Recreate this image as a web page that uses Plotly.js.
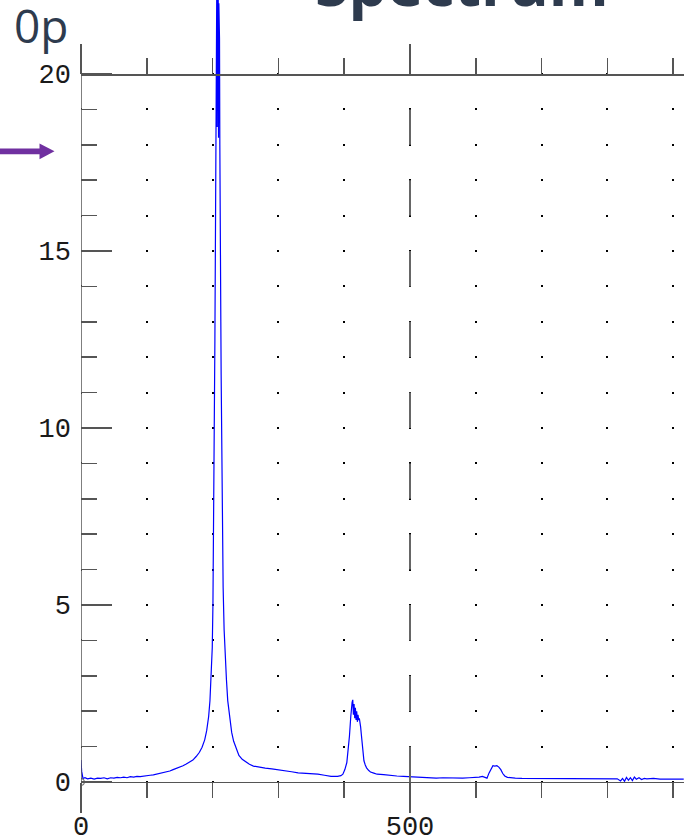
<!DOCTYPE html>
<html><head><meta charset="utf-8">
<script src="https://cdn.plot.ly/plotly-3.0.1.min.js"></script>
<style>html,body{margin:0;padding:0;background:#fff;overflow:hidden}</style>
</head><body><div id="chart" style="width:684px;height:839px"></div>
<script>
const wavenumber = [
  0, 1, 3, 6, 10, 15, 20, 25, 30, 35,
  40, 45, 50, 55, 60, 65, 70, 75, 80, 85,
  90, 95, 100, 105, 110, 115, 120, 125, 130, 135,
  140, 145, 150, 155, 160, 165, 170, 175, 180, 184,
  188, 191, 194, 196, 198, 199.5, 200.5, 201.5, 202.5, 203.5,
  204.5, 205, 205.5, 206, 206.5, 207, 207.5, 208, 208.5, 209,
  209.5, 210, 210.5, 211, 211.5, 212, 212.5, 213, 214, 215,
  216, 217.5, 219, 221, 223, 226, 229, 232, 236, 240,
  245, 250, 256, 262, 270, 280, 290, 300, 310, 320,
  330, 340, 350, 360, 370, 380, 390, 395, 398, 401,
  404, 406, 408, 410, 411, 412, 413, 414, 415, 416,
  417, 418, 419, 420, 421, 422, 423, 424, 425, 426,
  427, 428, 429, 430, 432, 434, 437, 440, 445, 450,
  460, 470, 480, 490, 500, 510, 520, 530, 540, 550,
  560, 570, 580, 590, 600, 605, 610, 614, 617, 620,
  623, 626, 629, 632, 635, 638, 641, 644, 648, 652,
  660, 670, 680, 690, 700, 720, 740, 760, 780, 800,
  815, 820, 823, 826, 829, 832, 835, 838, 841, 844,
  848, 852, 856, 860, 870, 880, 890, 900, 910, 916
];
const intensity = [
  0.62, 0.30, 0.10, 0.12, 0.09, 0.11, 0.08, 0.11, 0.10, 0.12,
  0.09, 0.12, 0.11, 0.13, 0.12, 0.14, 0.12, 0.15, 0.14, 0.16,
  0.15, 0.17, 0.17, 0.19, 0.20, 0.22, 0.24, 0.26, 0.29, 0.31,
  0.35, 0.38, 0.42, 0.46, 0.51, 0.56, 0.62, 0.72, 0.84, 0.98,
  1.19, 1.45, 1.85, 2.30, 3.00, 3.80, 5.00, 7.00, 9.50, 12.5,
  16.0, 18.2, 21.5, 19.0, 23.0, 18.5, 23.0, 19.5, 22.5, 18.2,
  22.0, 18.5, 21.0, 18.0, 17.0, 15.0, 13.0, 11.5, 9.0, 7.0,
  5.5, 4.3, 3.5, 2.9, 2.3, 1.75, 1.40, 1.15, 0.92, 0.75,
  0.64, 0.57, 0.50, 0.45, 0.42, 0.39, 0.37, 0.35, 0.32, 0.29,
  0.26, 0.25, 0.23, 0.22, 0.19, 0.16, 0.16, 0.18, 0.22, 0.35,
  0.55, 0.90, 1.30, 1.85, 2.15, 2.25, 2.32, 1.90, 2.20, 1.80,
  2.10, 1.75, 2.00, 1.70, 1.90, 1.75, 1.80, 1.70, 1.55, 1.35,
  1.10, 0.90, 0.75, 0.60, 0.48, 0.40, 0.33, 0.28, 0.25, 0.22,
  0.21, 0.18, 0.17, 0.16, 0.15, 0.14, 0.12, 0.13, 0.11, 0.12,
  0.11, 0.12, 0.11, 0.12, 0.12, 0.14, 0.16, 0.13, 0.11, 0.25,
  0.38, 0.46, 0.45, 0.46, 0.42, 0.35, 0.24, 0.17, 0.13, 0.12,
  0.11, 0.10, 0.10, 0.09, 0.10, 0.09, 0.09, 0.09, 0.09, 0.09,
  0.09, 0.03, 0.10, 0.02, 0.13, 0.05, 0.12, 0.04, 0.14, 0.08,
  0.12, 0.07, 0.10, 0.09, 0.10, 0.08, 0.09, 0.08, 0.08, 0.08
];
const xTickVals = [0, 500];
const xTickText = ['0', '500'];
const xMinorVals = [100, 200, 300, 400, 600, 700, 800, 900];
const yTickVals = [0, 5, 10, 15, 20];
const yTickText = ['0', '5', '10', '15', '20'];
const yMinorVals = [1, 2, 3, 4, 6, 7, 8, 9, 11, 12, 13, 14, 16, 17, 18, 19];
const titleText = 'Spectrum';
const cornerText = '0p';

const W = 684, H = 839, L = 81;
const xRange = [0, 916.41];
const yRange = [-1.6102, 22.0904];
const pxPerY = H / (yRange[1] - yRange[0]);
const pxPerX = (W - L) / (xRange[1] - xRange[0]);
const posY = v => (v - yRange[0]) / (yRange[1] - yRange[0]);
const paperX = p => (p - L) / (W - L);
const paperY = p => (H - p) / H;
const axisColor = '#555555';
const textDark = '#2e3b4e';
const monoFont = {family: 'Liberation Mono, Courier New, monospace', size: 27, color: '#1a1a1a'};
const gap = (100 * pxPerX - 2).toFixed(2);
const dotDash = '1px,' + gap + 'px,1px,0px';

function pathPaper(pts) {
  return 'M' + pts.map(p => paperX(p[0]).toFixed(5) + ',' + paperY(p[1]).toFixed(5)).join('L') + 'Z';
}

const traces = [
  {x: wavenumber, y: intensity, type: 'scatter', mode: 'lines',
   line: {color: '#0000ff', width: 1.2}, hoverinfo: 'skip', xaxis: 'x', yaxis: 'y'},
  {x: [], y: [], type: 'scatter', mode: 'lines', xaxis: 'x2', yaxis: 'y', hoverinfo: 'skip'}
];

const layout = {
  width: W, height: H,
  margin: {l: L, r: 0, t: 0, b: 0, pad: 0},
  paper_bgcolor: '#ffffff', plot_bgcolor: '#ffffff',
  showlegend: false,
  font: {family: 'Open Sans, sans-serif', color: textDark},
  xaxis: {
    range: xRange, anchor: 'free', position: posY(0), side: 'bottom',
    showline: true, linecolor: axisColor, linewidth: 1.5,
    zeroline: false, showgrid: false,
    tickmode: 'array', tickvals: xTickVals, ticktext: xTickText,
    ticks: 'outside', ticklen: 30, tickwidth: 1.5, tickcolor: axisColor,
    tickfont: monoFont, ticklabelstandoff: -11,
    minor: {tickmode: 'array', tickvals: xMinorVals, ticks: 'outside', ticklen: 15,
            tickwidth: 1.5, tickcolor: axisColor, showgrid: false}
  },
  xaxis2: {
    range: xRange, overlaying: 'x', anchor: 'free', position: posY(20), side: 'top',
    showline: true, linecolor: axisColor, linewidth: 1.5,
    zeroline: false, showgrid: false, showticklabels: false,
    tickmode: 'array', tickvals: xTickVals,
    ticks: 'outside', ticklen: 30, tickwidth: 1.5, tickcolor: axisColor,
    minor: {tickmode: 'array', tickvals: xMinorVals, ticks: 'outside', ticklen: 16,
            tickwidth: 1.5, tickcolor: axisColor, showgrid: false}
  },
  yaxis: {
    range: yRange, anchor: 'x', side: 'left',
    showline: false, zeroline: false,
    tickmode: 'array', tickvals: yTickVals, ticktext: yTickText,
    ticks: 'inside', ticklen: 31, tickwidth: 1.5, tickcolor: axisColor,
    tickfont: monoFont, ticklabelstandoff: 9,
    showgrid: true, gridcolor: '#000000', gridwidth: 2, griddash: dotDash,
    minor: {tickmode: 'array', tickvals: yMinorVals, ticks: 'inside', ticklen: 16,
            tickwidth: 1.5, tickcolor: axisColor,
            showgrid: true, gridcolor: '#000000', gridwidth: 2, griddash: dotDash}
  },
  shapes: [
    {type: 'line', xref: 'x', yref: 'y', x0: 0, x1: 0, y0: 0, y1: 20,
     line: {color: axisColor, width: 1.5}},
    {type: 'line', xref: 'x', yref: 'y', x0: 500, x1: 500, y0: 19, y1: 0,
     line: {color: '#666666', width: 2, dash: pxPerY.toFixed(2) + 'px,' + pxPerY.toFixed(2) + 'px'}},
    {type: 'circle', xref: 'x', yref: 'y', xsizemode: 'pixel', ysizemode: 'pixel',
     xanchor: 0, yanchor: 0, x0: -3.5, x1: 3.5, y0: -3.5, y1: 3.5,
     line: {color: axisColor, width: 1}},
    {type: 'path', xref: 'paper', yref: 'paper',
     path: pathPaper([[-2, 148.5], [39.5, 148.5], [39.5, 143.5], [54.5, 151.3], [39.5, 159.3], [39.5, 154.3], [-2, 154.3]]),
     fillcolor: '#7030a0', line: {width: 0}}
  ],
  annotations: [
    {text: cornerText, xref: 'paper', yref: 'paper', x: paperX(12), y: paperY(25),
     xanchor: 'left', yanchor: 'middle', showarrow: false,
     font: {family: 'Open Sans, sans-serif', size: 46, color: textDark}},
    {text: '<b>' + titleText + '</b>', xref: 'paper', yref: 'paper', x: paperX(461.5), y: paperY(-17),
     xanchor: 'center', yanchor: 'middle', showarrow: false,
     font: {family: 'Open Sans, sans-serif', size: 61, color: textDark}}
  ]
};

Plotly.newPlot('chart', traces, layout, {staticPlot: true, displayModeBar: false});
</script>
</body></html>
